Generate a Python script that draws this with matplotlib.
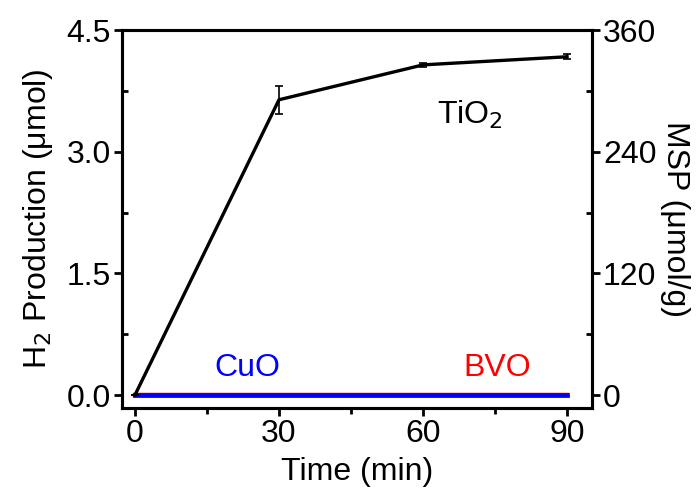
import matplotlib
matplotlib.use("Agg")
import matplotlib.pyplot as plt
from matplotlib.ticker import MultipleLocator

plt.rcParams['font.family'] = ['Liberation Sans', 'DejaVu Sans']

time = [0, 30, 60, 90]
tio2 = [0.0, 3.64, 4.07, 4.17]
tio2_err = [0.0, 0.17, 0.02, 0.03]
cuo = [0.0, 0.0, 0.0, 0.0]
bvo = [0.0, 0.0, 0.0, 0.0]
xticks = [0, 30, 60, 90]
yticks_left = [0.0, 1.5, 3.0, 4.5]
yticks_right = [0, 120, 240, 360]

FS = 23

fig = plt.figure(figsize=(6.97, 4.98), dpi=100)
ax = fig.add_axes([122/697, 1-408/498, (592-122)/697, (408-30)/498])

ax.plot(time, bvo, color='red', lw=3.2, zorder=2)
ax.plot(time, cuo, color='blue', lw=3.4, zorder=3)
ax.errorbar(time, tio2, yerr=tio2_err, color='black', lw=2.4, elinewidth=1.2,
            capsize=3, capthick=1.2, zorder=4)

ax.set_xlim(-2.7, 95.2)
ax.set_ylim(-0.16, 4.5)
ax.set_xticks(xticks)
ax.set_yticks(yticks_left)
ax.set_yticklabels([f"{v:.1f}" for v in yticks_left])
ax.xaxis.set_minor_locator(MultipleLocator(15))
ax.yaxis.set_minor_locator(MultipleLocator(0.75))

for s in ax.spines.values():
    s.set_linewidth(2.2)

ax.tick_params(axis='both', which='major', labelsize=FS, width=2, length=6, direction='out', pad=2)
ax.tick_params(axis='x', which='minor', width=2, length=4, direction='out')
ax.tick_params(axis='y', which='minor', width=2, length=4, direction='in')

ax.set_xlabel('Time (min)', fontsize=FS, labelpad=6)
ax.set_ylabel('H$_2$ Production (μmol)', fontsize=FS, labelpad=8)

ax2 = ax.twinx()
ax2.set_ylim(-0.16*80, 4.5*80)
ax2.set_yticks(yticks_right)
ax2.yaxis.set_minor_locator(MultipleLocator(60))
ax2.tick_params(axis='y', which='major', labelsize=FS, width=2, length=6, direction='out', pad=2)
ax2.tick_params(axis='y', which='minor', width=2, length=4, direction='in')
ax2.set_ylabel('MSP (μmol/g)', fontsize=FS, rotation=270, labelpad=24)
for s in ax2.spines.values():
    s.set_linewidth(2.2)

ax.text(0.266, 0.106, 'CuO', color='blue', fontsize=FS, ha='center', va='center', transform=ax.transAxes)
ax.text(0.798, 0.106, 'BVO', color='red', fontsize=FS, ha='center', va='center', transform=ax.transAxes)
ax.text(0.74, 0.775, 'TiO$_2$', color='black', fontsize=FS, ha='center', va='center', transform=ax.transAxes)

fig.savefig('out.png', dpi=100)
